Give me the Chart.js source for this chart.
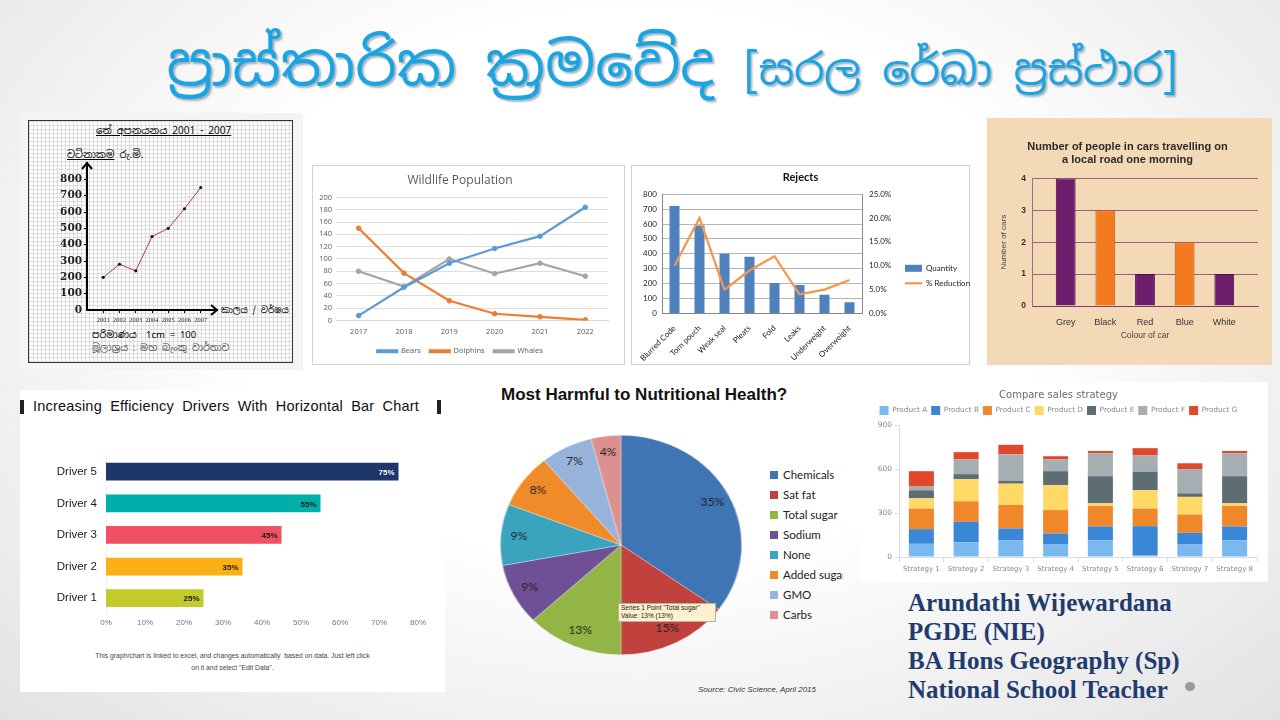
<!DOCTYPE html>
<html>
<head>
<meta charset="utf-8">
<script src="https://cdn.jsdelivr.net/npm/chart.js@4.4.0/dist/chart.umd.min.js"></script>
<style>
body{margin:0;width:1280px;height:720px;overflow:hidden;position:relative;
  background:radial-gradient(ellipse at 50% 40%,#ffffff 45%,#e2e2e2 100%);
  font-family:"Liberation Sans",Arial,sans-serif;}
.abs{position:absolute;white-space:nowrap}
.panel{position:absolute;background:#fff}
.sin{font-family:"Noto Sans Sinhala","Iskoola Pota","Noto Sans",sans-serif}
#title{left:0;width:1280px;top:24px;text-align:center;color:#1ba4e2;
  text-shadow:2px 2px 2px rgba(0,40,80,.35);font-size:59px;line-height:80px;padding-left:64px;box-sizing:border-box}
#title small{font-size:43px}
#paper{left:28px;top:120px;width:263px;height:241px;border:1.5px solid #333;
  background-color:#fff;
  background-image:linear-gradient(#dcdcdc 1px,transparent 1px),linear-gradient(90deg,#dcdcdc 1px,transparent 1px);
  background-size:4px 4px}
.leg{position:absolute;left:770px;font-family:Lato,sans-serif;font-size:11.5px;color:#222;width:73px;overflow:hidden;height:16px;line-height:16px;white-space:nowrap}
.leg i{display:inline-block;width:8px;height:8px;margin-right:5px;vertical-align:0px}
#author{left:908px;top:588px;font-family:"Liberation Serif",serif;font-weight:bold;font-size:25px;line-height:29px;color:#1f3c6e}
</style>
</head>
<body>
<div id="title" class="abs sin">ප්‍රාස්තාරික ක්‍රමවේද <small>[සරල රේඛා ප්‍රස්ථාර]</small></div>

<!-- panel 1: graph paper -->
<div class="panel" style="left:20px;top:113px;width:283px;height:257px;background:#f4f4f4"></div>
<div id="paper" class="abs"></div>
<div class="abs sin" style="left:96px;top:124px;font-size:10px;text-decoration:underline">තේ අපනයනය 2001 - 2007</div>
<div class="abs sin" style="left:67px;top:148px;font-size:10px"><u>වටිනාකම</u> රු.මි.</div>
<div class="abs sin" style="left:221px;top:304px;font-size:9px">කාලය / වර්ෂය</div>
<div class="abs sin" style="left:92px;top:328px;font-size:9.5px">පරිමාණය &nbsp;1cm = 100</div>
<div class="abs sin" style="left:92px;top:341px;font-size:9.5px;color:#555">මූලාශ්‍රය : මහ බැංකු වාර්තාව</div>
<canvas id="c1" class="abs" style="left:28px;top:140px;width:265px;height:200px"></canvas>

<!-- panel 2 -->
<div class="panel" style="left:312px;top:165px;width:311px;height:198px;border:1px solid #d4d4d4"></div>
<canvas id="c2" class="abs" style="left:312px;top:165px;width:313px;height:200px"></canvas>

<!-- panel 3 -->
<div class="panel" style="left:631px;top:165px;width:337px;height:198px;border:1px solid #cfcfcf"></div>
<canvas id="c3" class="abs" style="left:631px;top:165px;width:339px;height:200px"></canvas>

<!-- panel 4 -->
<div class="panel" style="left:987px;top:118px;width:285px;height:247px;background:#f4d9b6"></div>
<canvas id="c4" class="abs" style="left:987px;top:118px;width:285px;height:247px"></canvas>

<!-- panel 5 -->
<div class="panel" style="left:20px;top:390px;width:425px;height:302px"></div>
<div class="abs" style="left:20px;top:400px;width:4px;height:14px;background:#222"></div>
<div class="abs" style="left:437px;top:400px;width:4px;height:14px;background:#222"></div>
<div class="abs" style="left:33px;top:398px;font-size:14.5px;color:#111;word-spacing:4px;letter-spacing:0.2px">Increasing Efficiency Drivers With Horizontal Bar Chart</div>
<canvas id="c5" class="abs" style="left:20px;top:440px;width:425px;height:200px"></canvas>
<div class="abs" style="left:20px;top:650px;width:425px;text-align:center;font-size:6.8px;color:#444;line-height:12px">This graph/chart is linked to excel, and changes automatically &nbsp;based on data. Just left click<br>on it and select "Edit Data".</div>

<!-- panel 6: pie -->
<div class="abs" style="left:501px;top:385px;font-size:17px;font-weight:bold;color:#111">Most Harmful to Nutritional Health?</div>
<div class="abs" style="left:500px;top:435px;width:220px;height:220px;transform:scaleX(1.1);transform-origin:0 0">
  <canvas id="c6" style="width:220px;height:220px"></canvas>
</div>
<div id="pieLegend"></div>
<div class="abs" style="left:618px;top:603px;width:94px;height:17px;background:#fcf0cf;border:1px solid #b8b0a0;font-size:6.5px;line-height:8px;color:#222;padding:0 0 0 2px">Series 1 Point "Total sugar"<br>Value: 13% (13%)</div>
<div class="abs" style="left:698px;top:685px;font-size:8px;font-style:italic;color:#333">Source: Civic Science, April 2015</div>

<!-- panel 7 -->
<div class="panel" style="left:860px;top:382px;width:408px;height:200px"></div>
<canvas id="c7" class="abs" style="left:860px;top:382px;width:408px;height:200px"></canvas>

<div id="author" class="abs">Arundathi Wijewardana<br>PGDE (NIE)<br>BA Hons Geography (Sp)<br>National School Teacher</div>
<div class="abs" style="left:1185px;top:682px;width:10px;height:9px;border-radius:50%;background:#9a9a9a"></div>

<script>
// 1. tea exports (hand drawn)
const teaYears = [2001, 2002, 2003, 2004, 2005, 2006, 2007];
const teaValues = [200, 280, 240, 450, 500, 620, 750];

// 2. wildlife
const wildYears = ['2017', '2018', '2019', '2020', '2021', '2022'];
const bears = [8, 54, 93, 117, 137, 184];
const dolphins = [150, 77, 32, 11, 6, 1];
const whales = [80, 55, 100, 76, 93, 72];

// 3. rejects
const rejectCats = ['Blurred Code', 'Torn pouch', 'Weak seal', 'Pleats', 'Fold', 'Leaks', 'Underweight', 'Overweight'];
const rejectQty = [720, 590, 400, 380, 205, 190, 125, 75];
const rejectPct = [0.10, 0.20, 0.05, 0.09, 0.12, 0.04, 0.05, 0.07];

// 4. cars
const carColours = ['Grey', 'Black', 'Red', 'Blue', 'White'];
const carCounts = [4, 3, 1, 2, 1];

// 5. drivers
const drivers = ['Driver 5', 'Driver 4', 'Driver 3', 'Driver 2', 'Driver 1'];
const driverPct = [75, 55, 45, 35, 25];

// 6. pie
const pieCats = ['Chemicals', 'Sat fat', 'Total sugar', 'Sodium', 'None', 'Added sugar', 'GMO', 'Carbs'];
const pieValues = [35, 15, 13, 9, 9, 8, 7, 4];

// 7. sales strategy
const strategies = ['Strategy 1', 'Strategy 2', 'Strategy 3', 'Strategy 4', 'Strategy 5', 'Strategy 6', 'Strategy 7', 'Strategy 8'];
const products = ['Product A', 'Product B', 'Product C', 'Product D', 'Product E', 'Product F', 'Product G'];
const productA = [90, 100, 115, 85, 113, 10, 85, 113];
const productB = [100, 140, 80, 75, 95, 200, 80, 95];
const productC = [140, 140, 160, 160, 140, 120, 125, 140];
const productD = [70, 150, 145, 170, 18, 125, 120, 18];
const productE = [55, 35, 20, 95, 185, 127, 24, 185];
const productF = [25, 100, 180, 80, 155, 110, 165, 155];
const productG = [105, 50, 65, 22, 17, 50, 40, 17];

Chart.defaults.animation = false;
Chart.defaults.responsive = false;
Chart.defaults.plugins.tooltip.enabled = false;

const fix = (w, h) => s => { if (w != null) s.width = w; if (h != null) s.height = h; };

// ---- chart 1
const arrows = {
    id: 'arrows',
    afterDraw(chart) {
        const { ctx, chartArea: a } = chart;
        ctx.save();
        ctx.strokeStyle = '#000';
        ctx.lineWidth = 2;
        ctx.beginPath();
        ctx.moveTo(a.left - 5, a.top + 6); ctx.lineTo(a.left, a.top); ctx.lineTo(a.left + 5, a.top + 6);
        ctx.moveTo(a.right - 6, a.bottom - 5); ctx.lineTo(a.right, a.bottom); ctx.lineTo(a.right - 6, a.bottom + 5);
        ctx.stroke();
        ctx.restore();
    }
};
new Chart(document.getElementById('c1'), {
    type: 'line',
    data: {
        datasets: [{
            data: teaYears.map((y, i) => ({ x: y, y: teaValues[i] })),
            borderColor: '#c3343f', borderWidth: 1, pointRadius: 1.6,
            pointBackgroundColor: '#111', pointBorderWidth: 0
        }]
    },
    options: {
        layout: { padding: { left: 0, right: 76, top: 23, bottom: 0 } },
        plugins: { legend: { display: false } },
        scales: {
            x: {
                type: 'linear', min: 2000, max: 2008, afterFit: fix(null, 30),
                ticks: { stepSize: 1, autoSkip: false, maxRotation: 0, minRotation: 0,
                    font: { size: 6.4, family: 'Liberation Serif' }, color: '#222', padding: 3,
                    callback: v => (v > 2000 && v < 2008) ? v : '' },
                grid: { drawOnChartArea: false, tickLength: 3, color: c => (c.tick && c.tick.value > 2000 && c.tick.value < 2008) ? '#000' : 'transparent' },
                border: { color: '#000', width: 2 }
            },
            y: {
                min: 0, max: 900, afterFit: fix(59, null),
                ticks: { stepSize: 100, font: { size: 10.5, family: 'DejaVu Serif', weight: 'bold' }, color: '#222', padding: 2,
                    callback: v => v > 800 ? '' : v },
                grid: { drawOnChartArea: false, tickLength: 3, color: c => (c.tick && c.tick.value > 0 && c.tick.value <= 800) ? '#000' : 'transparent' },
                border: { color: '#000', width: 2 }
            }
        }
    },
    plugins: [arrows]
});

// ---- chart 2
new Chart(document.getElementById('c2'), {
    type: 'line',
    data: {
        labels: wildYears,
        datasets: [
            { label: 'Bears', data: bears, borderColor: '#5b9bd5', backgroundColor: '#5b9bd5' },
            { label: 'Dolphins', data: dolphins, borderColor: '#ed7d31', backgroundColor: '#ed7d31' },
            { label: 'Whales', data: whales, borderColor: '#a5a5a5', backgroundColor: '#a5a5a5' }
        ]
    },
    options: {
        elements: { line: { borderWidth: 2.2 }, point: { radius: 2.3 } },
        layout: { padding: { left: 0, right: 17, top: 0, bottom: 0 } },
        plugins: {
            title: { display: true, text: 'Wildlife Population', color: '#595959',
                font: { size: 12, family: 'Open Sans', weight: 'normal' }, padding: { top: 8, bottom: 10 } },
            legend: { position: 'bottom', labels: { font: { size: 7.5, family: 'Open Sans' }, color: '#595959',
                boxWidth: 20, boxHeight: 2, padding: 9 } }
        },
        scales: {
            x: { offset: true, afterFit: fix(null, 18), grid: { display: false, drawTicks: false }, border: { color: '#d9d9d9' },
                ticks: { font: { size: 7.5, family: 'Open Sans' }, color: '#595959', padding: 7 } },
            y: { min: 0, max: 200, afterFit: fix(24, null), border: { display: false },
                ticks: { stepSize: 20, font: { size: 7.5, family: 'Open Sans' }, color: '#595959', padding: 4 },
                grid: { color: '#dedede', drawTicks: false } }
        }
    }
});

// ---- chart 3
new Chart(document.getElementById('c3'), {
    data: {
        labels: rejectCats,
        datasets: [
            { type: 'bar', label: 'Quantity', data: rejectQty, backgroundColor: '#4f81bd', yAxisID: 'y',
                barPercentage: 0.4, categoryPercentage: 1, pointStyle: 'rect', order: 2 },
            { type: 'line', label: '% Reduction', data: rejectPct, borderColor: '#f79646', backgroundColor: '#f79646',
                borderWidth: 2.2, pointRadius: 0, yAxisID: 'y1', pointStyle: 'line', order: 1 }
        ]
    },
    options: {
        layout: { padding: { left: 0, right: 0, top: 0, bottom: 0 } },
        plugins: {
            title: { display: true, text: 'Rejects', color: '#111', font: { size: 11, family: 'Lato', weight: 'bold' },
                padding: { top: 6, bottom: 10 } },
            legend: { position: 'right', maxWidth: 72,
                title: { display: true, text: '', font: { size: 8 }, padding: { top: 6, bottom: 6 } },
                labels: { usePointStyle: true, pointStyleWidth: 17, boxHeight: 7, font: { size: 8, family: 'Lato' }, color: '#222',
                    padding: 7, sort: (a, b) => a.datasetIndex - b.datasetIndex } }
        },
        scales: {
            x: { grid: { display: false }, border: { color: '#868686' },
                ticks: { minRotation: 45, maxRotation: 45, font: { size: 8, family: 'Lato' }, color: '#222', padding: 2 } },
            y: { min: 0, max: 800, afterFit: fix(31, null), border: { color: '#868686' },
                ticks: { stepSize: 100, font: { size: 8, family: 'Lato' }, color: '#222', padding: 5 },
                grid: { color: '#b5b5b5', drawTicks: false } },
            y1: { position: 'right', min: 0, max: 0.25, afterFit: fix(36, null), border: { color: '#868686' },
                ticks: { stepSize: 0.05, font: { size: 8, family: 'Lato' }, color: '#222', padding: 7,
                    callback: v => (v * 100).toFixed(1) + '%' },
                grid: { display: false, drawTicks: false } }
        }
    }
});

// ---- chart 4 (linear x so the bars sit in from the axis like the original)
new Chart(document.getElementById('c4'), {
    type: 'bar',
    data: {
        datasets: [{
            data: carCounts.map((v, i) => ({ x: i, y: v })),
            backgroundColor: ['#6c1d6c', '#f47a20', '#6c1d6c', '#f47a20', '#6c1d6c'],
            borderColor: ['#4a0e4a', '#b85212', '#4a0e4a', '#b85212', '#4a0e4a'],
            borderWidth: 1, barPercentage: 0.5, categoryPercentage: 1
        }]
    },
    options: {
        layout: { padding: { left: 10, right: 14, top: 0, bottom: 24 } },
        plugins: {
            legend: { display: false },
            title: { display: true, text: ['Number of people in cars travelling on', 'a local road one morning'],
                color: '#2a2a2a', font: { size: 11, weight: 'bold', family: 'Liberation Sans' }, lineHeight: 1.3,
                padding: { top: 22, bottom: 12 } }
        },
        scales: {
            x: { type: 'linear', offset: false, min: -0.85, max: 4.85, afterFit: fix(null, 35),
                grid: { display: false }, border: { color: '#7a3d6c', width: 1 },
                ticks: { stepSize: 1, includeBounds: false, autoSkip: false, maxRotation: 0,
                    callback: v => Number.isInteger(v) ? carColours[v] : '',
                    font: { size: 9, family: 'Liberation Sans' }, color: '#333', padding: 3 },
                title: { display: true, text: 'Colour of car', font: { size: 8.5, family: 'Liberation Sans' }, color: '#444', padding: { top: 5, bottom: 0 } } },
            y: { min: 0, max: 4, afterFit: fix(35, null), border: { color: '#9a6a8a' },
                ticks: { stepSize: 1, font: { size: 8.5, weight: 'bold', family: 'Liberation Sans' }, color: '#333', padding: 6 },
                grid: { color: '#98617f', drawTicks: false },
                title: { display: true, text: 'Number of cars', font: { size: 8, family: 'Liberation Sans' }, color: '#444', padding: 2 } }
        }
    }
});

// ---- chart 5
const barLabels = {
    id: 'barLabels',
    afterDatasetsDraw(chart) {
        const { ctx } = chart;
        ctx.save();
        ctx.font = 'bold 8px "Liberation Sans"';
        ctx.textAlign = 'right';
        ctx.textBaseline = 'middle';
        chart.getDatasetMeta(0).data.forEach((bar, i) => {
            ctx.fillStyle = i === 0 ? '#fff' : '#1a1a1a';
            ctx.fillText(driverPct[i] + '%', bar.x - 4, bar.y + 1);
        });
        ctx.restore();
    }
};
new Chart(document.getElementById('c5'), {
    type: 'bar',
    data: {
        labels: drivers,
        datasets: [{ data: driverPct, backgroundColor: ['#1e376b', '#00afa9', '#ef5064', '#fcb018', '#c3ca2b'],
            barPercentage: 0.56, categoryPercentage: 1 }]
    },
    options: {
        indexAxis: 'y',
        layout: { padding: { left: 0, right: 27, top: 14, bottom: 0 } },
        plugins: { legend: { display: false } },
        scales: {
            x: { min: 0, max: 80, afterFit: fix(null, 26), grid: { display: false, drawTicks: false }, border: { display: false },
                ticks: { stepSize: 10, callback: v => v + '%', font: { size: 8, family: 'Liberation Sans' }, color: '#777', padding: 4 } },
            y: { afterFit: fix(86, null), grid: { display: false, drawTicks: false }, border: { color: '#f0f0f0' },
                ticks: { font: { size: 11.5, family: 'Liberation Sans' }, color: '#1a1a1a', padding: 9 } }
        }
    },
    plugins: [barLabels]
});

// ---- chart 6
const pieColors = ['#3f74b5', '#c1413c', '#93b546', '#6f4f96', '#3aa4bf', '#f08b2a', '#98b3d9', '#dc9190'];
const pieLabels = {
    id: 'pieLabels',
    afterDatasetsDraw(chart) {
        const { ctx } = chart;
        ctx.save();
        ctx.font = '11px Lato';
        ctx.fillStyle = '#222';
        ctx.textAlign = 'center';
        ctx.textBaseline = 'middle';
        chart.getDatasetMeta(0).data.forEach((arc, i) => {
            const mid = (arc.startAngle + arc.endAngle) / 2;
            const r = arc.outerRadius * 0.85;
            ctx.fillText(pieValues[i] + '%', arc.x + Math.cos(mid) * r, arc.y + Math.sin(mid) * r);
        });
        ctx.restore();
    }
};
new Chart(document.getElementById('c6'), {
    type: 'pie',
    data: { labels: pieCats, datasets: [{ data: pieValues, backgroundColor: pieColors, borderWidth: 0.6, borderColor: 'rgba(255,255,255,.5)' }] },
    options: { plugins: { legend: { display: false } } },
    plugins: [pieLabels]
});
document.getElementById('pieLegend').innerHTML = pieCats.map((c, i) =>
    `<div class="leg" style="top:${467 + i * 20}px"><i style="background:${pieColors[i]}"></i>${c}</div>`).join('');

// ---- chart 7
const prodColors = ['#7ab8f0', '#3a87d6', '#f0882b', '#ffd966', '#5e6c74', '#a6aeb1', '#e0472b'];
const prodData = [productA, productB, productC, productD, productE, productF, productG];
new Chart(document.getElementById('c7'), {
    type: 'bar',
    data: {
        labels: strategies,
        datasets: products.map((p, i) => ({ label: p, data: prodData[i], backgroundColor: prodColors[i],
            barPercentage: 0.56, categoryPercentage: 1 }))
    },
    options: {
        layout: { padding: { left: 0, right: 11, top: 0, bottom: 0 } },
        plugins: {
            title: { display: true, text: 'Compare sales strategy', color: '#6b6b6b',
                font: { size: 10, family: 'DejaVu Sans', weight: 'normal' }, padding: { top: 7, bottom: 1 } },
            legend: { labels: { boxWidth: 9, boxHeight: 9, font: { size: 7.3, family: 'DejaVu Sans' }, color: '#888', padding: 4 } }
        },
        scales: {
            x: { stacked: true, afterFit: fix(null, 25),
                grid: { drawOnChartArea: false, tickLength: 5, color: '#dddddd' }, border: { color: '#dddddd' },
                ticks: { font: { size: 7, family: 'DejaVu Sans' }, color: '#888', padding: 3 } },
            y: { stacked: true, min: 0, max: 900, afterFit: fix(39, null),
                grid: { drawOnChartArea: false, tickLength: 4, color: '#dddddd' }, border: { color: '#dddddd' },
                ticks: { stepSize: 300, font: { size: 7.5, family: 'DejaVu Sans' }, color: '#888', padding: 3 } }
        }
    }
});
</script>
</body>
</html>
